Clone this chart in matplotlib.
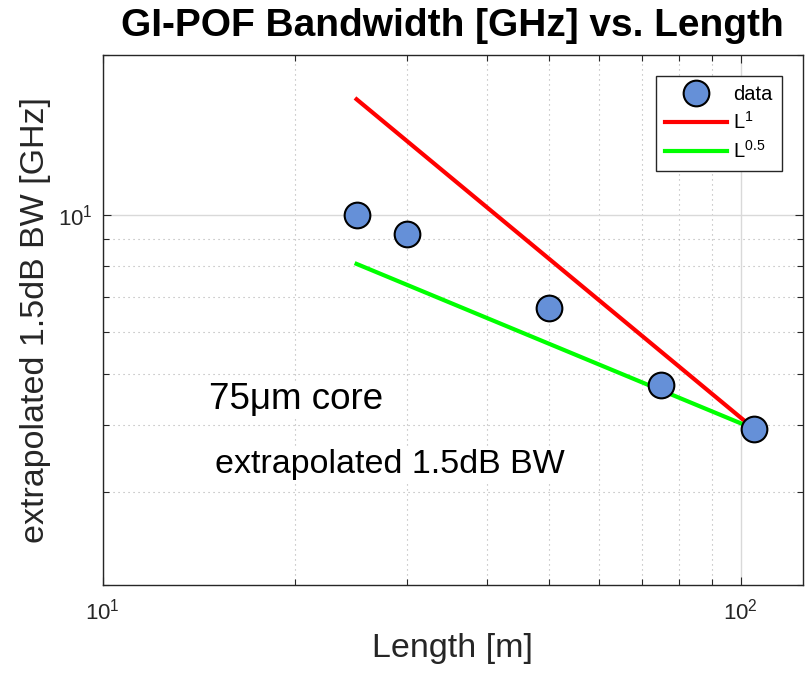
import matplotlib
matplotlib.use("Agg")
import matplotlib.pyplot as plt
from matplotlib.ticker import LogLocator, NullFormatter, FixedLocator

plt.rcParams["font.family"] = ["Liberation Sans", "DejaVu Sans"]
plt.rcParams["mathtext.fontset"] = "custom"
plt.rcParams["mathtext.rm"] = "Liberation Sans"
plt.rcParams["mathtext.it"] = "Liberation Sans:italic"
plt.rcParams["mathtext.bf"] = "Liberation Sans:bold"

# measured bandwidth vs fibre length
length_m = [25, 30, 50, 75, 105]
bw_ghz = [10.0, 9.2, 6.65, 4.77, 3.94]

# reference slopes, drawn between the first and last length
fit_length = [25, 105]
fit_l1 = [16.5, 3.94]
fit_l05 = [8.07, 3.94]

axis_color = "#262626"

fig = plt.figure(figsize=(8.08, 6.74), dpi=100)
ax = fig.add_axes([0.127, 0.132, 0.8664, 0.7864])

ax.set_xscale("log")
ax.set_yscale("log")
ax.set_xlim(10, 125)
ax.set_ylim(2, 20)

ax.plot(length_m, bw_ghz, "o", markersize=18.5, markerfacecolor="#6590d8",
        markeredgecolor="black", markeredgewidth=1.5, label="data", zorder=4)
ax.plot(fit_length, fit_l1, color="red", linewidth=3, label=r"L$^{1}$", zorder=3)
ax.plot(fit_length, fit_l05, color="#00ff00", linewidth=3,
        label=r"L$^{0.5}$", zorder=3)

# ticks / grid, MATLAB-ish
ax.xaxis.set_major_locator(FixedLocator([10, 100]))
ax.yaxis.set_major_locator(FixedLocator([10]))
ax.xaxis.set_minor_locator(LogLocator(base=10, subs=range(2, 10)))
ax.yaxis.set_minor_locator(LogLocator(base=10, subs=range(2, 10)))
ax.xaxis.set_minor_formatter(NullFormatter())
ax.yaxis.set_minor_formatter(NullFormatter())
ax.set_xticklabels([r"$10^{1}$", r"$10^{2}$"])
ax.set_yticklabels([r"$10^{1}$"])
ax.tick_params(which="both", direction="in", top=True, right=True,
               color=axis_color, labelsize=16, labelcolor=axis_color)
ax.tick_params(which="major", length=6, width=0.8)
ax.tick_params(which="minor", length=4, width=0.8)
ax.tick_params(axis="x", which="major", pad=10)
ax.tick_params(axis="y", which="major", pad=7)

ax.grid(True, which="major", color="#d9d9d9", linewidth=1.0, linestyle="-")
ax.grid(True, which="minor", color="#b0b0b0", linewidth=0.8,
        linestyle=(0, (1, 3.5)))
ax.set_axisbelow(True)

for sp in ax.spines.values():
    sp.set_color(axis_color)
    sp.set_linewidth(1.0)

ax.set_title("GI-POF Bandwidth [GHz] vs. Length", fontsize=28,
             fontweight="bold", pad=14)
ax.set_xlabel("Length [m]", fontsize=24.5, color=axis_color)
ax.set_ylabel("extrapolated 1.5dB BW [GHz]", fontsize=24.5, color=axis_color)
ax.xaxis.set_label_coords(0.5, -0.09)
ax.yaxis.set_label_coords(-0.074, 0.5)

box = dict(facecolor="white", edgecolor="none", pad=1)
ax.text(14.7, 4.47, "75\u03bcm core", fontsize=26.5, va="center", ha="left",
        bbox=box, zorder=2)
ax.text(15.0, 3.38, "extrapolated 1.5dB BW", fontsize=24.5, va="center",
        ha="left", bbox=box, zorder=2)

leg = ax.legend(loc="upper right", bbox_to_anchor=(0.970, 0.960),
                borderaxespad=0, fontsize=14.5, frameon=True, fancybox=False,
                framealpha=1, edgecolor=axis_color, handlelength=3.1,
                handletextpad=0.3, labelspacing=0.35, borderpad=0.45,
                markerscale=1.0)
leg.get_frame().set_linewidth(1.0)

fig.savefig("out.png", dpi=100)
plt.close("all")
